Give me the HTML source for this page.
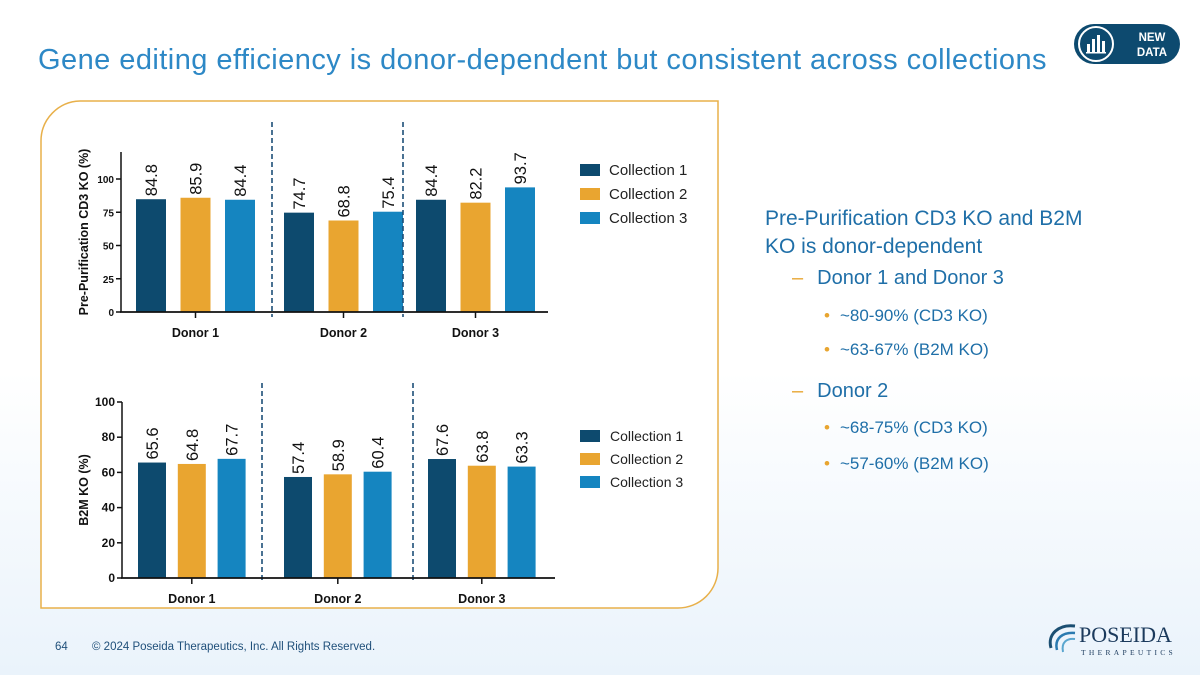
<!DOCTYPE html>
<html><head><meta charset="utf-8"><style>
body{margin:0;width:1200px;height:675px;overflow:hidden;font-family:"Liberation Sans",sans-serif;}
#slide{position:relative;width:1200px;height:675px;background:linear-gradient(#ffffff 0%,#ffffff 55%,#eaf3fb 100%);}
.t{position:absolute;font-family:"Liberation Sans",sans-serif;white-space:nowrap;}
</style></head><body>
<div id="slide">
<div class="t" style="left:38px;top:44px;font-size:29px;letter-spacing:0.45px;color:#2d88c6;">Gene editing efficiency is donor-dependent but consistent across collections</div>
<svg style="position:absolute;left:1070px;top:22px" width="112" height="46">
<rect x="4" y="2" width="106" height="40" rx="20" fill="#0d4a6f"/>
<circle cx="26" cy="22" r="17" fill="#0d4a6f" stroke="#fff" stroke-width="2"/>
<g fill="#fff"><rect x="17" y="22" width="3" height="8"/><rect x="22" y="17" width="3" height="13"/><rect x="27" y="13" width="3" height="17"/><rect x="32" y="19" width="3" height="11"/><rect x="16" y="30" width="20" height="1.5"/></g>
<text x="82" y="19" fill="#fff" font-size="11.5" font-weight="bold" text-anchor="middle">NEW</text>
<text x="82" y="34" fill="#fff" font-size="11.5" font-weight="bold" text-anchor="middle">DATA</text>
</svg>
<svg style="position:absolute;left:0;top:0" width="1200" height="675" id="charts">
<path d="M80,101 H718 V568 A40,40 0 0 1 678,608 H41 V141 A40,40 0 0 1 80,101 Z" fill="#fff" stroke="#e8b04a" stroke-width="1.5"/>
</svg>
<div class="t" style="left:765px;top:205px;font-size:21px;line-height:28px;color:#1f6fa8;">Pre-Purification CD3 KO and B2M<br>KO is donor-dependent</div>
<div class="t" style="left:792px;top:267px;font-size:20px;color:#1f6fa8;"><span style="color:#e8a530;margin-right:14px">–</span>Donor 1 and Donor 3</div>
<div class="t" style="left:824px;top:306px;font-size:17px;color:#1f6fa8;"><span style="color:#e8a530;margin-right:10px">•</span>~80-90% (CD3 KO)</div>
<div class="t" style="left:824px;top:340px;font-size:17px;color:#1f6fa8;"><span style="color:#e8a530;margin-right:10px">•</span>~63-67% (B2M KO)</div>
<div class="t" style="left:792px;top:380px;font-size:20px;color:#1f6fa8;"><span style="color:#e8a530;margin-right:14px">–</span>Donor 2</div>
<div class="t" style="left:824px;top:418px;font-size:17px;color:#1f6fa8;"><span style="color:#e8a530;margin-right:10px">•</span>~68-75% (CD3 KO)</div>
<div class="t" style="left:824px;top:454px;font-size:17px;color:#1f6fa8;"><span style="color:#e8a530;margin-right:10px">•</span>~57-60% (B2M KO)</div>
<div class="t" style="left:55px;top:641px;font-size:11.5px;color:#1f4f7a;">64</div>
<div class="t" style="left:92px;top:641px;font-size:11.5px;color:#1f4f7a;">© 2024 Poseida Therapeutics, Inc. All Rights Reserved.</div>
<svg style="position:absolute;left:1045px;top:622px" width="150" height="36">
<path d="M6,26 C2,12 14,2 30,4" stroke="#1b4f72" stroke-width="3" fill="none"/>
<path d="M12,28 C9,16 18,10 30,11" stroke="#2a7ab0" stroke-width="2.5" fill="none"/>
<path d="M18,30 C16,20 22,16 30,17" stroke="#5aa6cf" stroke-width="2" fill="none"/>
<text x="34" y="20" font-family="Liberation Serif,serif" font-size="22" fill="#1b3a5c">POSEIDA</text>
<text x="36" y="33" font-family="Liberation Serif,serif" font-size="7.5" letter-spacing="3.3" fill="#1b3a5c">THERAPEUTICS</text>
</svg>
</div>
<script>
const donors=["Donor 1","Donor 2","Donor 3"];
const collections=["Collection 1","Collection 2","Collection 3"];
const colors=["#0d4a6e","#e9a530","#1585c0"];
const cd3Values=[[84.8,85.9,84.4],[74.7,68.8,75.4],[84.4,82.2,93.7]];
const b2mValues=[[65.6,64.8,67.7],[57.4,58.9,60.4],[67.6,63.8,63.3]];
const cd3Ticks=[0,25,50,75,100];
const b2mTicks=[0,20,40,60,80,100];
const NS="http://www.w3.org/2000/svg";
const svg=document.getElementById('charts');
function mk(tag,attrs,parent){const e=document.createElementNS(NS,tag);for(const k in attrs)e.setAttribute(k,attrs[k]);(parent||svg).appendChild(e);return e;}
function drawChart(cfg,values,ticks){
  const g=mk('g',{});
  
  
  const y=v=>cfg.y0-(v/cfg.max)*(cfg.y0-cfg.yTop);
  donors.forEach((d,i)=>{
    values[i].forEach((v,j)=>{
      const bx=cfg.groupX[i]+j*cfg.step;
      const r=mk('rect',{x:bx,y:y(v),width:cfg.bw,height:cfg.y0-y(v),fill:colors[j]},g);
      
      
      const t=mk('text',{transform:`translate(${bx+cfg.bw/2+6},${y(v)-3}) rotate(-90)`,'font-size':16.5,fill:'#111'},g);
      t.textContent=v.toFixed(1);
      
      
    });
    const lx=cfg.groupX[i]+cfg.step+cfg.bw/2;
    mk('line',{x1:lx,x2:lx,y1:cfg.y0,y2:cfg.y0+6,stroke:'#111','stroke-width':1.5},g);
    const dl=mk('text',{x:lx,y:cfg.y0+25,'text-anchor':'middle','font-size':12.5,'font-weight':'bold',fill:'#111'},g);
    dl.textContent=d;
    
    
  });
  cfg.dash.forEach(x=>{const l=mk('line',{x1:x,x2:x,y1:cfg.dashTop,y2:cfg.y0+5,stroke:'#1d4f78','stroke-width':1.6,'stroke-dasharray':'5,3'},g);
    });
  mk('line',{x1:cfg.ax,x2:cfg.ax,y1:cfg.axTop,y2:cfg.y0,stroke:'#111','stroke-width':1.5},g);
  mk('line',{x1:cfg.ax-1,x2:cfg.axEnd,y1:cfg.y0,y2:cfg.y0,stroke:'#111','stroke-width':1.8},g);
  ticks.forEach(tv=>{
    mk('line',{x1:cfg.ax-5,x2:cfg.ax,y1:y(tv),y2:y(tv),stroke:'#111','stroke-width':1.5},g);
    const tt=mk('text',{x:cfg.ax-7,y:y(tv)+4,'text-anchor':'end','font-size':cfg.tickFs,'font-weight':'bold',fill:'#111'},g);
    tt.textContent=tv;
    
    
  });
  const yt=mk('text',{transform:`translate(${cfg.titleX},${(cfg.y0+cfg.axTop)/2}) rotate(-90)`,'text-anchor':'middle','font-size':12.5,'font-weight':'bold',fill:'#111'},g);
  yt.textContent=cfg.title;
  
  
  collections.forEach((c,j)=>{
    const ly=cfg.legY+j*cfg.legStep;
    mk('rect',{x:580,y:ly,width:20,height:12,fill:colors[j]},g);
    const lt=mk('text',{x:cfg.legTx,y:ly+11,'font-size':cfg.legFs,fill:'#222'},g);
    lt.textContent=c;
    
    
  });
}
drawChart({name:'cd3-chart',key:'cd3',y0:312,yTop:179,max:100,ax:121,axTop:152,axEnd:548,groupX:[136,284,416],step:44.5,bw:30,dash:[272,403],dashTop:122,tickFs:10,titleX:88,title:'Pre-Purification CD3 KO (%)',legY:164,legStep:24,legTx:609,legFs:15},cd3Values,cd3Ticks);
drawChart({name:'b2m-chart',key:'b2m',y0:578,yTop:402,max:100,ax:122,axTop:402,axEnd:555,groupX:[138,284,428],step:39.8,bw:28,dash:[262,413],dashTop:383,tickFs:12,titleX:88,title:'B2M KO (%)',legY:430,legStep:23,legTx:610,legFs:14},b2mValues,b2mTicks);
</script>
</body></html>
